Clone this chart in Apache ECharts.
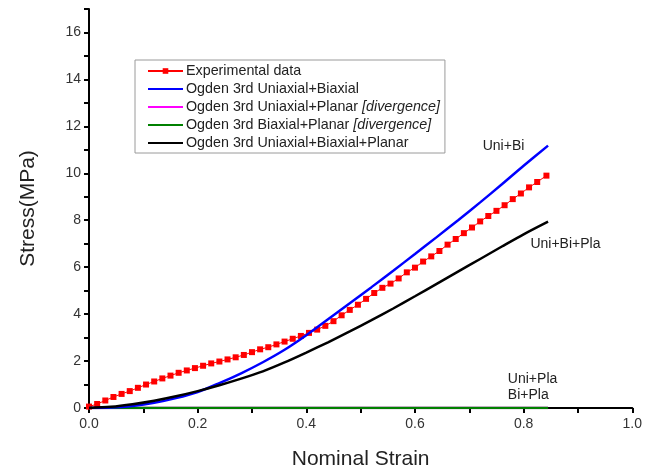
<!DOCTYPE html>
<html>
<head>
<meta charset="utf-8">
<script src="https://cdn.jsdelivr.net/npm/echarts@6/dist/echarts.min.js"></script>
<style>
html,body{margin:0;padding:0;background:#fff;}
#chart{width:645px;height:475px;}
</style>
</head>
<body>
<div id="chart"></div>
<script>
// ---- Data ----
const seriesNames = [
  'Experimental data',
  'Ogden 3rd Uniaxial+Biaxial',
  'Ogden 3rd Uniaxial+Planar [divergence]',
  'Ogden 3rd Biaxial+Planar [divergence]',
  'Ogden 3rd Uniaxial+Biaxial+Planar'
];

const strainExp = [0.000,0.015,0.030,0.045,0.060,0.075,0.090,0.105,0.120,0.135,0.150,0.165,0.180,0.195,0.210,0.225,0.240,0.255,0.270,0.285,0.300,0.315,0.330,0.345,0.360,0.375,0.390,0.405,0.420,0.435,0.450,0.465,0.480,0.495,0.510,0.525,0.540,0.555,0.570,0.585,0.600,0.615,0.630,0.645,0.660,0.675,0.690,0.705,0.720,0.735,0.750,0.765,0.780,0.795,0.810,0.825,0.842];
const stressExp = [0.06,0.17,0.32,0.47,0.60,0.72,0.86,1.00,1.13,1.26,1.38,1.50,1.60,1.70,1.80,1.90,1.98,2.07,2.16,2.26,2.38,2.50,2.59,2.71,2.83,2.95,3.07,3.20,3.34,3.50,3.70,3.95,4.18,4.40,4.65,4.90,5.12,5.30,5.52,5.78,5.98,6.24,6.46,6.69,6.96,7.20,7.45,7.69,7.95,8.18,8.40,8.64,8.90,9.14,9.40,9.63,9.90];

const strainFit = [0.00,0.04,0.08,0.12,0.16,0.20,0.24,0.28,0.32,0.36,0.40,0.44,0.48,0.52,0.56,0.60,0.64,0.68,0.72,0.76,0.80,0.845];
const stressUniBi = [0,0.02,0.09,0.22,0.42,0.68,1.06,1.48,1.95,2.48,3.10,3.78,4.46,5.15,5.85,6.56,7.28,8.01,8.76,9.53,10.32,11.18];
const stressUniBiPla = [0,0.05,0.16,0.31,0.50,0.72,0.97,1.25,1.56,1.94,2.36,2.80,3.26,3.74,4.24,4.76,5.29,5.82,6.35,6.88,7.40,7.94];

const strainDiv = [0.00,0.20,0.40,0.60,0.845];
const stressUniPla = [0,0,0,0,0];
const stressBiPla = [0,0,0,0,0];

const xTicks = [0,0.1,0.2,0.3,0.4,0.5,0.6,0.7,0.8,0.9,1.0];
const yTicks = [0,2,4,6,8,10,12,14,16];

const annotations = [
  {text:'Uni+Bi', coord:[0.763,11.15], align:'center'},
  {text:'Uni+Bi+Pla', coord:[0.877,6.97], align:'center'},
  {text:'Uni+Pla', coord:[0.771,1.23], align:'left'},
  {text:'Bi+Pla', coord:[0.771,0.55], align:'left'}
];

const zip = (a,b) => a.map((v,i)=>[v,b[i]]);
const FONT = "Arial, 'Liberation Sans', sans-serif";

const chart = echarts.init(document.getElementById('chart'));
chart.setOption({
  animation:false,
  backgroundColor:'#fff',
  textStyle:{fontFamily:FONT},
  grid:{left:89,right:11,top:9,bottom:66,containLabel:false},
  legend:{
    orient:'vertical',
    left:135, top:60,
    padding:[4,5,3,12],
    borderColor:'#9a9a9a', borderWidth:1,
    itemWidth:35, itemHeight:7, itemGap:4,
    data:seriesNames.map((n,i)=> i===0 ? {name:n} : {name:n, itemStyle:{opacity:0}}),
    formatter: n => n.replace('[divergence]','{i|[divergence]}'),
    textStyle:{fontSize:14.3,color:'#222',fontFamily:FONT,padding:[0,0,0,-2],
      rich:{i:{fontStyle:'italic',fontSize:14.3,color:'#222',fontFamily:FONT}}}
  },
  xAxis:{
    type:'value', min:0, max:1, interval:0.1,
    name:'Nominal Strain', nameLocation:'middle', nameGap:41,
    nameTextStyle:{fontSize:21,color:'#222',fontFamily:FONT},
    axisLine:{onZero:false,lineStyle:{color:'#000',width:2}},
    axisTick:{show:true,inside:false,length:5,lineStyle:{color:'#000',width:2}},
    axisLabel:{interval:0,fontSize:14,color:'#333',margin:9,fontFamily:FONT,
      formatter: v => { const k = Math.round(v*10); return (k%2===0 && xTicks.some(t=>Math.abs(t-v)<1e-6)) ? v.toFixed(1) : ''; }},
    splitLine:{show:false}
  },
  yAxis:{
    type:'value', min:0, max:17, interval:1,
    name:'Stress(MPa)', nameLocation:'middle', nameGap:50, nameRotate:90,
    nameTextStyle:{fontSize:21,color:'#222',fontFamily:FONT},
    axisLine:{show:true,onZero:false,lineStyle:{color:'#000',width:2}},
    axisTick:{show:true,inside:false,length:5,lineStyle:{color:'#000',width:2}},
    axisLabel:{interval:0,fontSize:14,color:'#333',margin:8,fontFamily:FONT,
      formatter: v => yTicks.indexOf(Math.round(v))>=0 && Math.abs(v-Math.round(v))<1e-6 ? String(Math.round(v)) : ''},
    splitLine:{show:false}
  },
  series:[
    {
      name:seriesNames[0], type:'line', data:zip(strainExp,stressExp),
      symbol:'rect', symbolSize:6, showSymbol:true,
      itemStyle:{color:'#ff0000'}, lineStyle:{color:'#ff0000',width:1}, z:3
    },
    {
      name:seriesNames[2], type:'line', data:zip(strainDiv,stressUniPla),
      symbol:'none', lineStyle:{color:'#ff00ff',width:2.5}, itemStyle:{color:'#ff00ff'}, z:2
    },
    {
      name:seriesNames[3], type:'line', data:zip(strainDiv,stressBiPla),
      symbol:'none', lineStyle:{color:'#008000',width:2.5}, itemStyle:{color:'#008000'}, z:2
    },
    {
      name:seriesNames[1], type:'line', data:zip(strainFit,stressUniBi), smooth:0.3,
      symbol:'none', lineStyle:{color:'#0000ff',width:2.5}, itemStyle:{color:'#0000ff'}, z:4,
      markPoint:{
        symbol:'circle', symbolSize:0, silent:true,
        data: annotations.map(a=>({coord:a.coord,
          label:{show:true,formatter:a.text,position:a.align==='left'?'right':'inside',distance:0,
            fontSize:14,color:'#222',fontFamily:FONT}}))
      }
    },
    {
      name:seriesNames[4], type:'line', data:zip(strainFit,stressUniBiPla), smooth:0.3,
      symbol:'none', lineStyle:{color:'#000000',width:2.5}, itemStyle:{color:'#000000'}, z:4
    }
  ]
});
</script>
</body>
</html>
